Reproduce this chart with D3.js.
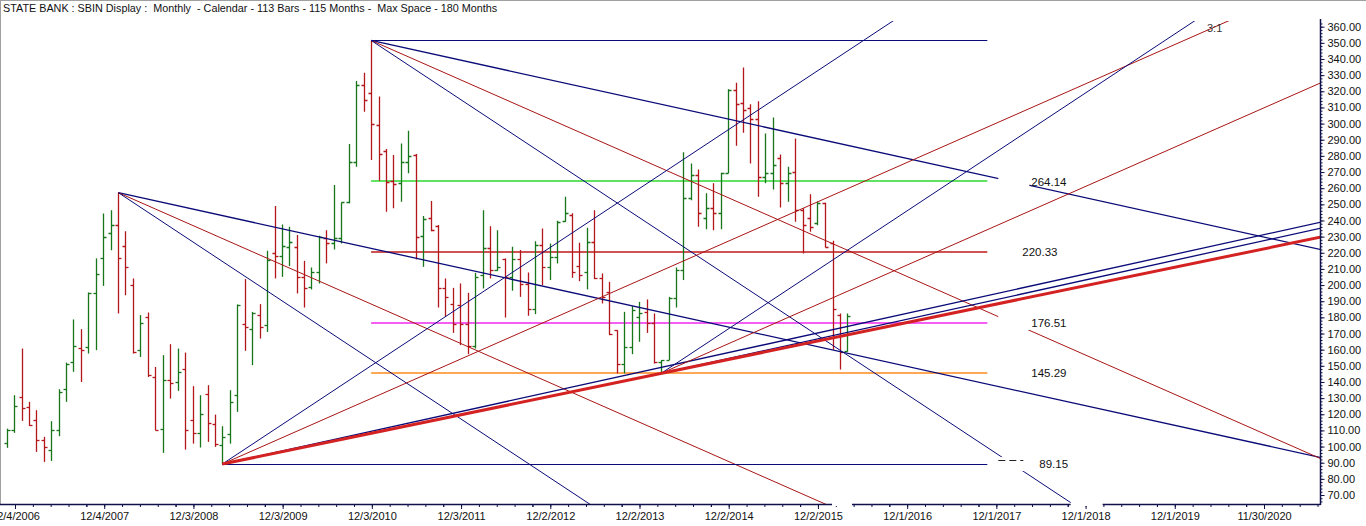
<!DOCTYPE html>
<html>
<head>
<meta charset="utf-8">
<script src="https://cdn.jsdelivr.net/npm/d3@7"></script>
<style>
  body { margin: 0; background: #fff; }
  svg { display: block; font-family: "Liberation Sans", Arial, sans-serif; }
</style>
</head>
<body>
<svg id="chart" width="1366" height="526"></svg>
<script>
// monthly bars, first bar = Oct 2006, one per calendar month
const firstMonth = '2006-10';

const opens = [
  102.5, 110.5, 130.8, 124.6, 116.7, 103.9, 97.7, 110.5, 135.9, 152.4,
  161.1, 161.7, 194.8, 216.5, 232.4, 237.5, 224.1, 199.9, 159.7, 180.3,
  143.1, 111.1, 141.1, 140.1, 148.3, 116.3, 108.7, 132.8, 113.8, 101.2,
  107.6, 132.2, 176.2, 172.7, 181.4, 175.2, 220.0, 218.1, 223.7, 223.7,
  205.1, 199.0, 208.2, 228.9, 226.0, 228.9, 251.6, 276.4, 323.9, 319.1,
  299.1, 283.2, 264.6, 263.0, 276.0, 280.5, 230.5, 241.3, 236.7, 197.9,
  188.2, 187.6, 175.8, 162.2, 206.2, 222.7, 209.3, 215.9, 204.7, 215.9,
  200.6, 184.9, 224.8, 210.9, 217.5, 239.8, 243.3, 212.0, 208.2, 226.4,
  204.1, 195.8, 172.1, 151.4, 161.7, 180.0, 183.4, 176.6, 152.5, 153.5,
  192.3, 209.3, 254.1, 268.1, 241.3, 247.5, 244.4, 269.6, 320.8, 312.5,
  309.4, 302.6, 267.1, 269.2, 278.4, 263.0, 269.8, 246.4, 241.3, 238.2,
  250.6, 226.2, 181.4, 159.1
];
const highs = [
  111.1, 131.8, 160.7, 127.7, 122.5, 106.0, 115.7, 135.5, 152.0, 178.7,
  172.7, 195.4, 216.5, 244.3, 246.4, 257.2, 233.4, 204.1, 181.4, 183.0,
  149.3, 156.6, 163.4, 160.7, 158.2, 137.4, 131.8, 138.0, 119.8, 112.6,
  134.9, 188.0, 203.7, 183.4, 188.2, 221.2, 248.9, 237.5, 236.1, 231.0,
  215.0, 210.9, 230.5, 234.0, 262.0, 251.2, 287.3, 326.4, 331.5, 351.51,
  316.7, 284.2, 280.5, 287.7, 295.6, 281.1, 242.7, 252.0, 237.2, 204.1,
  198.3, 201.0, 195.2, 207.6, 246.4, 236.5, 234.0, 216.5, 223.7, 221.7,
  207.8, 227.2, 235.1, 225.8, 239.8, 254.7, 244.4, 226.2, 235.5, 246.4,
  207.2, 202.0, 172.1, 183.4, 187.0, 189.6, 191.1, 182.4, 153.5, 192.7,
  210.9, 282.2, 275.3, 271.6, 256.8, 263.0, 269.6, 321.2, 325.3, 334.8,
  311.9, 313.9, 293.9, 303.8, 280.9, 273.3, 290.8, 247.5, 256.3, 251.6,
  251.0, 227.4, 182.4, 182.4
];
const lows = [
  99.2, 108.5, 115.9, 112.8, 96.7, 90.5, 91.1, 106.4, 127.7, 146.3,
  140.0, 157.6, 159.7, 199.5, 221.6, 182.4, 193.7, 157.6, 155.5, 143.1,
  110.1, 96.1, 129.7, 134.5, 98.1, 101.8, 99.4, 102.9, 99.8, 89.15,
  101.8, 121.5, 159.3, 150.4, 166.9, 171.0, 204.1, 205.1, 211.7, 194.8,
  186.1, 197.3, 201.0, 213.4, 222.0, 225.8, 250.6, 273.3, 307.4, 277.4,
  264.6, 245.4, 247.5, 251.6, 269.2, 215.9, 211.3, 233.4, 186.1, 180.4,
  170.4, 162.8, 157.2, 160.7, 197.9, 204.1, 208.8, 179.9, 196.5, 192.7,
  181.0, 182.0, 200.0, 203.1, 213.4, 239.2, 204.5, 202.4, 197.3, 203.7,
  188.6, 169.0, 145.3, 145.3, 157.2, 164.9, 170.4, 151.4, 145.29, 153.5,
  186.1, 203.1, 252.6, 236.1, 234.5, 234.0, 234.5, 269.2, 286.3, 294.3,
  275.3, 254.7, 263.0, 259.2, 248.1, 251.6, 239.2, 219.6, 233.0, 237.1,
  223.3, 160.0, 147.7, 158.7
];
const closes = [
  110.1, 125.4, 123.9, 113.6, 103.9, 99.8, 110.5, 134.0, 151.0, 162.4,
  159.7, 194.8, 206.6, 229.5, 237.5, 216.5, 210.9, 158.6, 176.8, 144.2,
  110.5, 141.5, 139.6, 146.3, 110.5, 108.7, 120.4, 114.6, 101.8, 106.0,
  127.7, 187.6, 174.1, 182.4, 174.1, 215.4, 218.0, 224.1, 226.8, 205.1,
  197.9, 208.2, 229.5, 225.8, 229.0, 251.2, 276.4, 323.9, 314.6, 299.5,
  281.1, 264.0, 262.5, 276.4, 280.0, 229.5, 240.9, 234.0, 197.9, 192.7,
  176.2, 175.8, 162.2, 205.1, 222.7, 209.3, 211.3, 204.7, 215.9, 200.6,
  184.9, 224.8, 210.9, 217.5, 239.2, 244.4, 208.2, 206.0, 226.4, 204.1,
  192.7, 170.0, 151.4, 161.7, 184.5, 183.0, 176.6, 152.5, 153.5, 192.3,
  209.3, 254.1, 268.1, 244.4, 247.5, 244.4, 269.6, 320.8, 311.9, 308.4,
  302.6, 267.1, 269.2, 274.3, 263.0, 269.2, 246.4, 237.1, 236.1, 250.6,
  223.7, 184.9, 158.7, 180.8
];

// x axis labels as printed, y axis ticks
const dateTicks = ['12/4/2006', '12/4/2007', '12/3/2008', '12/3/2009', '12/3/2010',
  '12/3/2011', '12/2/2012', '12/2/2013', '12/2/2014', '12/2/2015', '12/1/2016',
  '12/1/2017', '12/1/2018', '12/1/2019', '11/30/2020'];
const priceTicks = [70, 80, 90, 100, 110, 120, 130, 140, 150, 160, 170, 180, 190, 200,
  210, 220, 230, 240, 250, 260, 270, 280, 290, 300, 310, 320, 330, 340, 350, 360];

// gann pivots
const pivotDates = ['1/31/2008', '11/30/2010', '3/31/2009', '2/28/2014'];
const pivotPrices = [257.2, 351.51, 89.15, 145.29];
const fanRates = [1, 2, 3];          // price per 30 days
const levelPrices = [264.14, 220.33, 176.51, 145.29];
const levelColors = ['#2ed82e', '#c01a1a', '#f028f0', '#ff8a1c'];
const levelEnd = '10/25/2017';
const title = 'STATE BANK : SBIN Display :  Monthly  - Calendar - 113 Bars - 115 Months -  Max Space - 180 Months';

const parse = d3.timeParse('%m/%d/%Y');
const W = 1366, H = 526;
const plot = {left: 0, right: 1320.5, top: 21, bottom: 504};
const crisp = v => Math.round(v) + 0.5;

const svg = d3.select('#chart');

const x = d3.scaleTime()
  .domain([parse(dateTicks[0]), parse(dateTicks[dateTicks.length - 1])])
  .range([15, 1264]);
const y = d3.scaleLinear()
  .domain([70, 360])
  .range([495, 26.7]);

const monthEnd = i => d3.timeDay.offset(
  d3.timeMonth.offset(d3.timeParse('%Y-%m')(firstMonth), i + 1), -1);

const bars = opens.map((o, i) => ({
  date: monthEnd(i), o, h: highs[i], l: lows[i], c: closes[i]
}));

// frame
svg.append('line').attr('x1', 0).attr('x2', W).attr('y1', 0.5).attr('y2', 0.5)
  .attr('stroke', '#a0a0a0');
svg.append('line').attr('x1', 0.5).attr('x2', 0.5).attr('y1', 0).attr('y2', plot.bottom)
  .attr('stroke', '#a0a0a0');

svg.append('text')
  .attr('x', 3).attr('y', 12)
  .attr('font-size', 10.8)
  .attr('fill', '#111')
  .style('white-space', 'pre')
  .text(title);

svg.append('clipPath').attr('id', 'clip')
  .append('rect')
  .attr('x', plot.left).attr('y', plot.top)
  .attr('width', plot.right - plot.left).attr('height', plot.bottom - plot.top);

const g = svg.append('g').attr('clip-path', 'url(#clip)');

// horizontal levels
const xEnd = x(parse(levelEnd));
const xH2 = x(parse(pivotDates[1]));

g.selectAll('.level')
  .data(levelPrices)
  .enter().append('line')
  .attr('x1', xH2).attr('x2', xEnd)
  .attr('y1', d => Math.round(y(d))).attr('y2', d => Math.round(y(d)))
  .attr('stroke', (d, i) => levelColors[i])
  .attr('stroke-width', 1.6);

// ohlc bars
const barColor = d => d.c >= d.o ? '#17751a' : '#b3161b';
const bar = g.selectAll('.bar')
  .data(bars)
  .enter().append('g')
  .attr('stroke', barColor)
  .attr('stroke-width', 1.3);

bar.append('line')
  .attr('x1', d => crisp(x(d.date))).attr('x2', d => crisp(x(d.date)))
  .attr('y1', d => y(d.h)).attr('y2', d => y(d.l));
bar.append('line')
  .attr('x1', d => crisp(x(d.date)) - 3).attr('x2', d => crisp(x(d.date)))
  .attr('y1', d => crisp(y(d.o))).attr('y2', d => crisp(y(d.o)));
bar.append('line')
  .attr('x1', d => crisp(x(d.date))).attr('x2', d => crisp(x(d.date)) + 3)
  .attr('y1', d => crisp(y(d.c))).attr('y2', d => crisp(y(d.c)));

// gann lines
const farDate = parse('1/1/2023');
const days = (a, b) => (b - a) / 864e5;
const pivot = i => ({date: parse(pivotDates[i]), price: pivotPrices[i]});

const fans = [
  {p: 0, dir: -1}, {p: 1, dir: -1}, {p: 2, dir: 1}, {p: 3, dir: 1}
];
const segs = [];
fans.forEach(f => {
  const pv = pivot(f.p);
  fanRates.forEach(r => {
    segs.push({
      x1: x(pv.date), y1: y(pv.price),
      x2: x(farDate), y2: y(pv.price + f.dir * r * days(pv.date, farDate) / 30),
      color: r === 2 ? '#a81414' : '#0a0a78',
      width: r === 1 ? 1.3 : 1
    });
  });
});
// pivot horizontals
[1, 2].forEach(i => {
  const pv = pivot(i);
  segs.push({x1: x(pv.date), y1: crisp(y(pv.price)), x2: xEnd, y2: crisp(y(pv.price)),
    color: '#0a0a78', width: 1.2});
});
// trend line low to low
const pA = pivot(2), pB = pivot(3);
const trendRate = (pB.price - pA.price) / days(pA.date, pB.date);
segs.push({x1: x(pA.date), y1: y(pA.price),
  x2: x(farDate), y2: y(pA.price + trendRate * days(pA.date, farDate)),
  color: '#d42222', width: 3});

g.selectAll('.gann')
  .data(segs)
  .enter().append('line')
  .attr('x1', d => d.x1).attr('y1', d => d.y1)
  .attr('x2', d => d.x2).attr('y2', d => d.y2)
  .attr('stroke', d => d.color)
  .attr('stroke-width', d => d.width);

// level labels with their white boxes
const labelPrices = levelPrices.concat([pivotPrices[2]]);
const labelDx = [44, 35, 44, 44, 52];
svg.selectAll('.lblbox')
  .data(labelPrices)
  .enter().append('rect')
  .attr('x', xEnd + 11).attr('y', d => y(d) - 7)
  .attr('width', 31).attr('height', 14)
  .attr('fill', '#fff');
svg.append('line')
  .attr('x1', xEnd + 11).attr('x2', xEnd + 36)
  .attr('y1', crisp(y(pivotPrices[2]) - 4)).attr('y2', crisp(y(pivotPrices[2]) - 4))
  .attr('stroke', '#222').attr('stroke-dasharray', '7,4');
svg.selectAll('.lbl')
  .data(labelPrices)
  .enter().append('text')
  .attr('x', (d, i) => xEnd + labelDx[i])
  .attr('y', d => y(d))
  .attr('dy', '0.35em')
  .attr('font-size', 11.5)
  .attr('fill', '#111')
  .text(d => d3.format('.2f')(d));

// 3:1 label near the 2x fan of the low
svg.append('text')
  .attr('x', 1207).attr('y', plot.top + 11)
  .attr('font-size', 11)
  .attr('fill', '#333')
  .text('3:1');

// x axis
const minorDates = [];
dateTicks.forEach(t => {
  for (let k = -1; k < 5; k++) minorDates.push(d3.timeDay.offset(parse(t), 73 * k));
});

const axisColor = '#10104a';
const xAxis = svg.append('g')
  .attr('transform', `translate(0,${plot.bottom})`)
  .call(d3.axisBottom(x).tickValues(dateTicks.map(parse))
    .tickFormat((d, i) => dateTicks[i]).tickSize(5).tickPadding(3).tickSizeOuter(0));
xAxis.select('.domain').remove();
xAxis.selectAll('text').attr('font-size', 11).attr('fill', '#111')
  .attr('font-family', '"Liberation Sans", Arial, sans-serif');
xAxis.selectAll('line').attr('stroke', axisColor);

const xMinor = svg.append('g')
  .attr('transform', `translate(0,${plot.bottom})`)
  .call(d3.axisBottom(x).tickValues(minorDates.filter(d => x(d) > 0 && x(d) < plot.right))
    .tickFormat('').tickSize(3).tickSizeOuter(0));
xMinor.select('.domain').remove();
xMinor.selectAll('line').attr('stroke', axisColor);

svg.append('line')
  .attr('x1', 0).attr('x2', plot.right)
  .attr('y1', plot.bottom + 0.5).attr('y2', plot.bottom + 0.5)
  .attr('stroke', axisColor).attr('stroke-width', 1.5);

// y axis
const yAxis = svg.append('g')
  .attr('transform', `translate(${plot.right},0)`)
  .call(d3.axisRight(y).tickValues(priceTicks).tickFormat(d3.format('.2f'))
    .tickSize(4).tickPadding(3).tickSizeOuter(0));
yAxis.select('.domain').remove();
yAxis.selectAll('text').attr('font-size', 11).attr('fill', '#111')
  .attr('font-family', '"Liberation Sans", Arial, sans-serif');
yAxis.selectAll('line').attr('stroke', axisColor);

const yMinor = svg.append('g')
  .attr('transform', `translate(${plot.right},0)`)
  .call(d3.axisRight(y).tickValues(d3.range(66, 364, 2)).tickFormat('').tickSize(2).tickSizeOuter(0));
yMinor.select('.domain').remove();
yMinor.selectAll('line').attr('stroke', axisColor);

svg.append('line')
  .attr('x1', plot.right).attr('x2', plot.right)
  .attr('y1', plot.top - 2).attr('y2', plot.bottom + 1)
  .attr('stroke', axisColor).attr('stroke-width', 1.5);

// white gaps on the time axis where fan line labels sit
const hitBottom = (p, r, dir) => {
  const pv = pivot(p);
  const target = y.invert(plot.bottom);
  const dd = (target - pv.price) / (dir * r) * 30;
  return x(d3.timeDay.offset(pv.date, dd));
};
[[hitBottom(0, 2, -1) + 7, 20], [hitBottom(1, 3, -1) - 2, 32]].forEach(([bx, bw]) => {
  svg.append('rect').attr('x', bx).attr('y', plot.bottom - 5)
    .attr('width', bw).attr('height', 7).attr('fill', '#fff');
});
</script>
</body>
</html>
